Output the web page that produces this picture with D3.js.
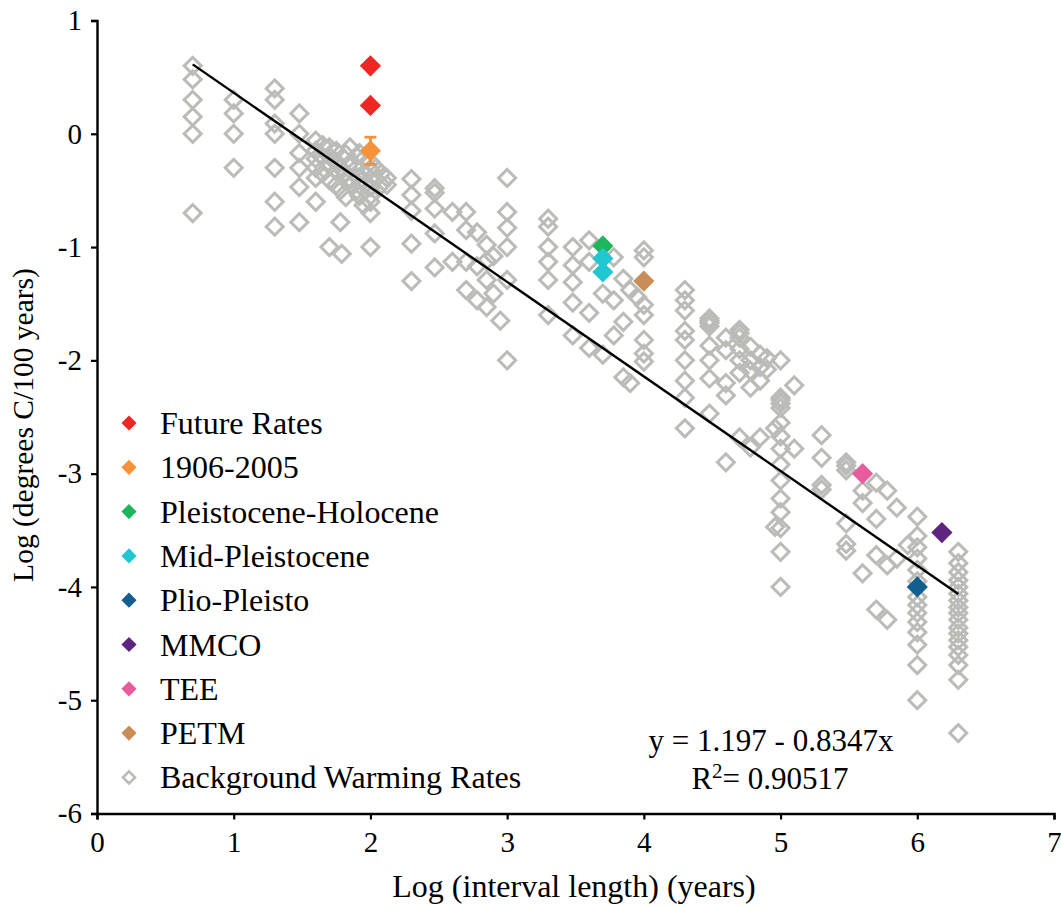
<!DOCTYPE html>
<html>
<head>
<meta charset="utf-8">
<script src="https://cdn.jsdelivr.net/npm/d3@7"></script>
<style>
  body { margin: 0; background: #fff; }
  text { font-family: "Liberation Serif", "Times New Roman", serif; fill: #000; }
</style>
</head>
<body>
<div id="chart"></div>
<script>
// Background warming rates as [log interval, log rate]
const backgroundPoints = [
  [0.7, 0.6], [0.7, 0.48], [0.7, 0.3], [0.7, 0.15], [0.7, 0], [0.7, -0.7],
  [1.0, 0.3], [1.0, 0.18], [1.0, 0], [1.0, -0.3],
  [1.3, 0.4], [1.3, 0.3], [1.3, 0.09], [1.3, 0], [1.3, -0.3], [1.3, -0.6], [1.3, -0.82],
  [1.48, 0.18], [1.48, 0], [1.48, -0.17], [1.48, -0.3], [1.48, -0.47], [1.48, -0.78],
  [1.6, -0.06], [1.6, -0.15], [1.6, -0.22], [1.6, -0.3], [1.6, -0.39], [1.6, -0.6],
  [1.65, -0.1], [1.65, -0.2], [1.65, -0.35],
  [1.7, -0.12], [1.7, -0.2], [1.7, -0.28], [1.7, -0.41], [1.7, -1.0],
  [1.75, -0.15], [1.75, -0.25], [1.75, -0.33], [1.75, -0.45],
  [1.78, -0.3], [1.78, -0.5], [1.78, -0.78], [1.79, -1.06],
  [1.82, -0.18], [1.82, -0.35], [1.82, -0.56],
  [1.85, -0.12], [1.85, -0.26], [1.85, -0.4], [1.85, -0.45],
  [1.9, -0.2], [1.9, -0.3], [1.9, -0.38], [1.9, -0.5],
  [1.92, -0.17], [1.92, -0.45], [1.92, -0.55],
  [1.95, -0.22], [1.95, -0.35], [1.95, -0.63],
  [2.0, -0.25], [2.0, -0.32], [2.0, -0.4], [2.0, -0.47], [2.0, -0.55], [2.0, -0.6], [2.0, -0.7], [2.0, -1.0],
  [2.04, -0.3], [2.04, -0.4], [2.04, -0.5],
  [2.08, -0.35], [2.08, -0.45], [2.12, -0.39], [2.12, -0.45],
  [2.3, -0.4], [2.3, -0.54], [2.3, -0.68], [2.3, -0.97], [2.3, -1.3],
  [2.47, -0.48], [2.47, -0.52], [2.47, -0.66], [2.47, -0.88], [2.47, -1.18],
  [2.6, -0.69], [2.6, -1.13],
  [2.7, -0.69], [2.7, -0.85], [2.7, -1.13], [2.7, -1.38],
  [2.78, -0.87], [2.78, -1.17], [2.78, -1.47],
  [2.85, -0.98], [2.85, -1.12], [2.85, -1.29], [2.85, -1.53],
  [2.9, -1.08], [2.9, -1.41], [2.95, -1.65],
  [3.0, -0.39], [3.0, -0.69], [3.0, -0.83], [3.0, -1.0], [3.0, -1.29], [3.0, -2.0],
  [3.3, -0.75], [3.3, -0.82], [3.3, -1.0], [3.3, -1.13], [3.3, -1.29], [3.3, -1.6],
  [3.48, -1.0], [3.48, -1.16], [3.48, -1.31], [3.48, -1.49], [3.48, -1.78],
  [3.6, -0.94], [3.6, -1.13], [3.6, -1.58], [3.6, -1.89],
  [3.7, -1.41], [3.7, -1.95],
  [3.78, -1.09], [3.78, -1.47], [3.78, -1.78],
  [3.85, -1.28], [3.85, -1.66], [3.85, -2.15],
  [3.9, -1.38], [3.9, -2.2], [3.95, -1.44],
  [4.0, -1.03], [4.0, -1.09], [4.0, -1.51], [4.0, -1.6], [4.0, -1.82], [4.0, -1.94], [4.0, -2.01],
  [4.3, -1.38], [4.3, -1.47], [4.3, -1.56], [4.3, -1.74], [4.3, -1.82], [4.3, -2.0], [4.3, -2.18], [4.3, -2.33], [4.3, -2.6],
  [4.48, -1.63], [4.48, -1.65], [4.48, -1.67], [4.48, -1.7], [4.48, -1.87], [4.48, -2.0], [4.48, -2.16], [4.48, -2.47],
  [4.6, -1.8], [4.6, -1.91], [4.6, -2.2], [4.6, -2.31], [4.6, -2.9],
  [4.7, -1.73], [4.7, -1.76], [4.7, -1.8], [4.7, -1.9], [4.7, -2.0], [4.7, -2.11], [4.7, -2.68],
  [4.78, -1.88], [4.78, -2.0], [4.78, -2.09], [4.78, -2.24], [4.78, -2.77],
  [4.85, -1.95], [4.85, -2.06], [4.85, -2.18], [4.85, -2.68],
  [4.9, -1.98], [4.9, -2.08],
  [5.0, -2.0], [5.0, -2.33], [5.0, -2.35], [5.0, -2.38], [5.0, -2.42], [5.0, -2.55], [5.0, -2.67],
  [5.0, -2.78], [5.0, -2.92], [5.0, -3.06], [5.0, -3.22], [5.0, -3.34], [5.0, -3.48], [5.0, -3.69], [5.0, -4.0],
  [4.96, -3.47], [4.96, -2.6],
  [5.1, -2.22], [5.1, -2.78],
  [5.3, -2.66], [5.3, -2.86], [5.3, -3.1], [5.3, -3.14],
  [5.48, -2.9], [5.48, -2.93], [5.48, -2.97], [5.48, -3.44], [5.48, -3.62], [5.48, -3.68],
  [5.6, -3.15], [5.6, -3.26], [5.6, -3.88],
  [5.7, -3.08], [5.7, -3.4], [5.7, -3.72], [5.7, -4.2],
  [5.78, -3.15], [5.78, -3.81], [5.78, -4.29],
  [5.85, -3.3], [5.85, -3.75], [5.93, -3.63],
  [6.0, -3.38], [6.0, -3.55], [6.0, -3.65], [6.0, -3.75], [6.0, -3.85], [6.0, -3.95], [6.0, -4.09], [6.0, -4.16],
  [6.0, -4.23], [6.0, -4.31], [6.0, -4.4], [6.0, -4.51], [6.0, -4.69], [6.0, -5.0],
  [6.3, -3.69], [6.3, -3.79], [6.3, -3.87], [6.3, -3.94], [6.3, -4.0], [6.3, -4.06], [6.3, -4.12], [6.3, -4.18],
  [6.3, -4.23], [6.3, -4.29], [6.3, -4.36], [6.3, -4.41], [6.3, -4.47], [6.3, -4.53], [6.3, -4.6], [6.3, -4.69],
  [6.3, -4.82], [6.3, -5.29]
];

// Named events, drawn as filled diamonds
const seriesNames = ["Future Rates", "1906-2005", "Pleistocene-Holocene", "Mid-Pleistocene",
  "Plio-Pleisto", "MMCO", "TEE", "PETM"];
const seriesColors = ["#ee2624", "#f8923a", "#1db65c", "#21c7d0", "#125e8f", "#5d2480", "#e75c9c", "#c98e58"];
const seriesPoints = [
  [[2.0, 0.6], [2.0, 0.25]],
  [[2.0, -0.15]],
  [[3.7, -0.99]],
  [[3.7, -1.1], [3.7, -1.22]],
  [[6.0, -4.0]],
  [[6.18, -3.52]],
  [[5.6, -3.0]],
  [[4.0, -1.3]]
];
// error bar on the 1906-2005 point: [x, low, high]
const errorBars = [[2.0, -0.27, -0.03]];

const xTicks = [0, 1, 2, 3, 4, 5, 6, 7];
const yTicks = [-6, -5, -4, -3, -2, -1, 0, 1];

// regression: y = 1.197 - 0.8347x, R^2 = 0.90517
const fitIntercept = 1.197;
const fitSlope = -0.8347;
const fitRange = [0.7, 6.3];
const fitLabel = "y = 1.197 - 0.8347x";
const r2Value = "0.90517";

function drawChart() {
  const width = 1061, height = 909;

  const x = d3.scaleLinear().domain([0, 7]).range([97, 1054]);
  const y = d3.scaleLinear().domain([-6, 1]).range([813.5, 20.5]);

  const svg = d3.select("#chart").append("svg")
    .attr("width", width)
    .attr("height", height);

  const diamond = size => d3.symbol().type(d3.symbolSquare).size(size);

  // background hollow diamonds
  svg.append("g")
    .selectAll("path")
    .data(backgroundPoints)
    .join("path")
    .attr("d", diamond(145))
    .attr("transform", d => `translate(${x(d[0])},${y(d[1])}) rotate(45)`)
    .attr("fill", "none")
    .attr("stroke", "#bbbbb7")
    .attr("stroke-width", 3);

  // fitted line
  svg.append("line")
    .attr("x1", x(fitRange[0]))
    .attr("y1", y(fitIntercept + fitSlope * fitRange[0]))
    .attr("x2", x(fitRange[1]))
    .attr("y2", y(fitIntercept + fitSlope * fitRange[1]))
    .attr("stroke", "#000")
    .attr("stroke-width", 2.4);

  // error bar (under the marker)
  const eb = svg.append("g").attr("stroke", seriesColors[1]).attr("stroke-width", 2.8);
  errorBars.forEach(d => {
    eb.append("line").attr("x1", x(d[0])).attr("x2", x(d[0])).attr("y1", y(d[1])).attr("y2", y(d[2]));
    eb.append("line").attr("x1", x(d[0]) - 6).attr("x2", x(d[0]) + 6).attr("y1", y(d[1])).attr("y2", y(d[1]));
    eb.append("line").attr("x1", x(d[0]) - 6).attr("x2", x(d[0]) + 6).attr("y1", y(d[2])).attr("y2", y(d[2]));
  });

  // colored event diamonds
  seriesNames.forEach((name, i) => {
    svg.append("g")
      .selectAll("path")
      .data(seriesPoints[i])
      .join("path")
      .attr("d", diamond(225))
      .attr("transform", d => `translate(${x(d[0])},${y(d[1])}) rotate(45)`)
      .attr("fill", seriesColors[i]);
  });

  // axes
  const xAxis = svg.append("g")
    .attr("transform", `translate(0,${y(-6)})`)
    .call(d3.axisBottom(x).tickValues(xTicks).tickSize(6).tickPadding(12).tickFormat(d => String(d)));
  const yAxis = svg.append("g")
    .attr("transform", `translate(${x(0)},0)`)
    .call(d3.axisLeft(y).tickValues(yTicks).tickSize(6).tickPadding(9).tickFormat(d => String(d)));

  [xAxis, yAxis].forEach(g => {
    g.select(".domain").attr("stroke-width", 2.4);
    g.selectAll(".tick line").attr("stroke-width", 2.2);
    g.selectAll(".tick text")
      .style("font-family", '"Liberation Serif", "Times New Roman", serif')
      .style("font-size", "29px");
  });

  // axis titles
  svg.append("text")
    .attr("x", 574).attr("y", 897)
    .attr("text-anchor", "middle")
    .style("font-size", "32px")
    .text("Log (interval length) (years)");

  svg.append("text")
    .attr("transform", "translate(33,425) rotate(-90)")
    .attr("text-anchor", "middle")
    .style("font-size", "29.5px")
    .text("Log (degrees C/100 years)");

  // legend
  const legend = svg.append("g");
  const rowY = i => 423 + 44.3 * i;
  seriesNames.forEach((name, i) => {
    legend.append("path")
      .attr("d", diamond(115))
      .attr("transform", `translate(129,${rowY(i)}) rotate(45)`)
      .attr("fill", seriesColors[i]);
    legend.append("text")
      .attr("x", 160).attr("y", rowY(i) + 11)
      .style("font-size", "32px")
      .text(name);
  });
  const bgRow = seriesNames.length;
  legend.append("path")
    .attr("d", diamond(72))
    .attr("transform", `translate(129,${rowY(bgRow)}) rotate(45)`)
    .attr("fill", "none")
    .attr("stroke", "#bbbbb7")
    .attr("stroke-width", 2.6);
  legend.append("text")
    .attr("x", 160).attr("y", rowY(bgRow) + 11)
    .style("font-size", "32px")
    .text("Background Warming Rates");

  // equation
  svg.append("text")
    .attr("x", 771).attr("y", 751)
    .attr("text-anchor", "middle")
    .style("font-size", "31px")
    .text(fitLabel);
  const r2 = svg.append("text")
    .attr("x", 770).attr("y", 789)
    .attr("text-anchor", "middle")
    .style("font-size", "31px");
  r2.append("tspan").text("R");
  r2.append("tspan").attr("dy", -11).style("font-size", "21px").text("2");
  r2.append("tspan").attr("dy", 11).text("= " + r2Value);
}

drawChart();
</script>
</body>
</html>
